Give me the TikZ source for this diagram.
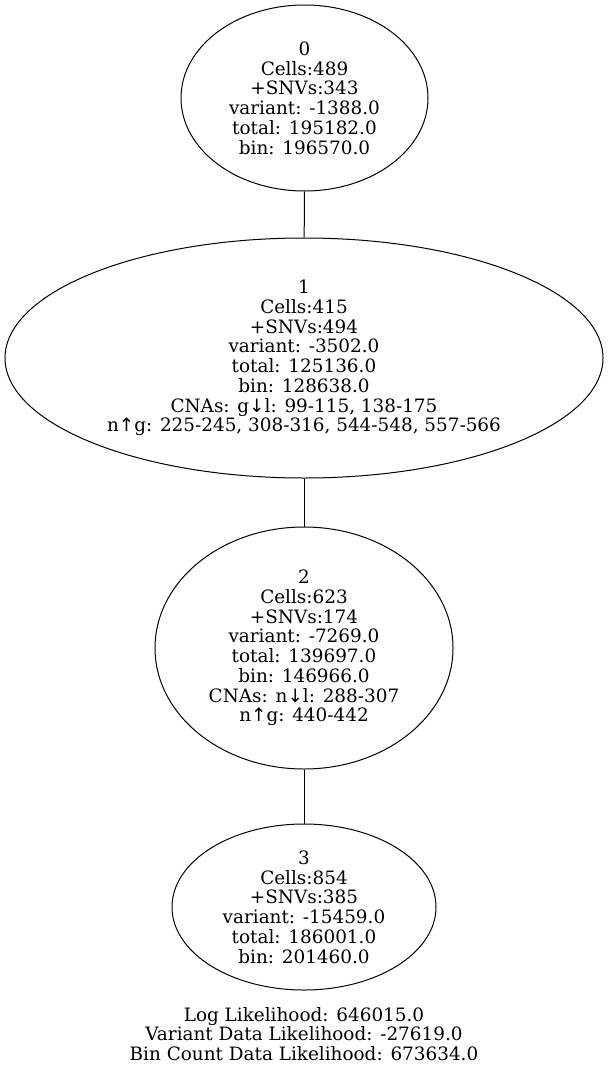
\documentclass[tikz,border=0pt]{standalone}
\usepackage{fontspec}
\setmainfont{DejaVu Serif}
\newfontfamily\arrowfont{DejaVu Sans}
\usetikzlibrary{shapes.geometric}
\newcommand{\dn}{{\arrowfont ↓}}
\newcommand{\up}{{\arrowfont ↑}}
\tikzset{
  ell/.style={draw, ellipse, line width=1pt, inner sep=0pt},
  lbl/.style={align=center, inner sep=0pt, font=\fontsize{18.4}{19.75}\selectfont},
  edge/.style={line width=1pt}
}
\begin{document}
\begin{tikzpicture}[x=1pt,y=-1pt]
\fill[white] (0,0) rectangle (608,1073);
\useasboundingbox (0,0) rectangle (608,1073);
\node[ell, minimum width=247pt, minimum height=186pt] (n0) at (304.5,98) {};
\node[lbl] (t0) at (n0.center) {0\\Cells:489\\+SNVs:343\\variant: -1388.0\\total: 195182.0\\bin: 196570.0};
\node[ell, minimum width=598pt, minimum height=240pt] (n1) at (304,358) {};
\node[lbl] (t1) at (n1.center) {1\\Cells:415\\+SNVs:494\\variant: -3502.0\\total: 125136.0\\bin: 128638.0\\CNAs: g\dn l: 99-115, 138-175\\n\up g: 225-245, 308-316, 544-548, 557-566};
\node[ell, minimum width=298pt, minimum height=242pt] (n2) at (304,648) {};
\node[lbl] (t2) at (n2.center) {2\\Cells:623\\+SNVs:174\\variant: -7269.0\\total: 139697.0\\bin: 146966.0\\CNAs: n\dn l: 288-307\\n\up g: 440-442};
\node[ell, minimum width=264pt, minimum height=166pt] (n3) at (304,907) {};
\node[lbl] (t3) at (n3.center) {3\\Cells:854\\+SNVs:385\\variant: -15459.0\\total: 186001.0\\bin: 201460.0};
\node[lbl] (ll) at (304,1034) {Log Likelihood: 646015.0\\Variant Data Likelihood: -27619.0\\Bin Count Data Likelihood: 673634.0};
\draw[edge] (n0) -- (n1);
\draw[edge] (n1) -- (n2);
\draw[edge] (n2) -- (n3);
\end{tikzpicture}
\end{document}
